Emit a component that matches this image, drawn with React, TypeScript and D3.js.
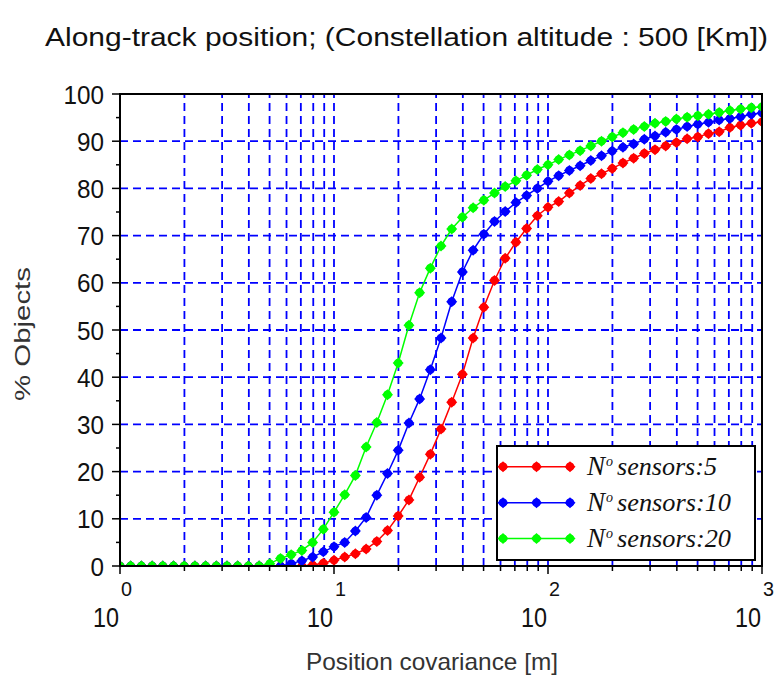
import React from "react";
import * as d3 from "d3";

const covariance = [
  1, 1.122, 1.259, 1.413, 1.585, 1.778, 1.995, 2.239, 2.512, 2.818, 3.162, 3.548, 3.981, 4.467, 5.012, 5.623, 6.31, 7.079, 7.943, 8.913,
  10, 11.22, 12.59, 14.13, 15.85, 17.78, 19.95, 22.39, 25.12, 28.18, 31.62, 35.48, 39.81, 44.67, 50.12, 56.23, 63.1, 70.79, 79.43, 89.13,
  100, 112.2, 125.9, 141.3, 158.5, 177.8, 199.5, 223.9, 251.2, 281.8, 316.2, 354.8, 398.1, 446.7, 501.2, 562.3, 631, 707.9, 794.3, 891.3,
  1000,
];

const sensors5 = [
  0, 0, 0, 0, 0, 0, 0, 0, 0, 0, 0, 0, 0, 0, 0, 0, 0, 0,
  0.2, 0.6, 1.2, 1.9, 2.6, 3.6, 5.2, 7.5, 10.6, 14.0, 18.8, 23.7, 29.0, 34.7, 40.6, 48.3, 54.8, 60.5, 65.2, 68.6, 71.5, 74.2,
  76.0, 77.2, 79.0, 80.6, 82.1, 83.1, 84.2, 85.4, 86.4, 87.4, 88.2, 89.0, 89.7, 90.5, 90.9, 91.6, 92.0, 92.9, 93.4, 93.8, 94.1,
];

const sensors10 = [
  0, 0, 0, 0, 0, 0, 0, 0, 0, 0, 0, 0, 0, 0, 0, 0,
  0.5, 1.1, 1.9, 3.0, 4.1, 5.0, 7.4, 10.3, 15.0, 19.6, 24.5, 30.3, 35.4, 41.6, 48.3, 56.0, 62.3, 66.9, 70.3, 73.0, 75.1, 77.0,
  78.5, 80.0, 81.5, 82.7, 83.8, 84.8, 85.9, 86.9, 87.9, 88.7, 89.4, 90.4, 91.1, 91.9, 92.5, 93.1, 93.6, 94.0, 94.5, 94.8, 95.2,
  95.7, 96.0,
];

const sensors20 = [
  0, 0, 0, 0, 0, 0, 0, 0, 0, 0, 0, 0, 0, 0,
  0.5, 1.6, 2.4, 3.3, 5.0, 7.8, 11.4, 15.1, 19.2, 25.2, 30.4, 36.3, 43.0, 51.0, 57.9, 63.1, 67.8, 71.4, 73.9, 75.9, 77.5, 79.0,
  80.4, 81.6, 82.8, 84.0, 85.0, 86.1, 87.1, 88.0, 89.0, 90.0, 90.9, 91.8, 92.5, 93.1, 93.8, 94.2, 94.7, 95.1, 95.4, 95.7, 96.1,
  96.5, 96.8, 97.1, 97.3,
];

const seriesNames = ["sensors:5", "sensors:10", "sensors:20"];
const seriesColors = ["#ff0000", "#0000ff", "#00ff00"];
const seriesValues = [sensors5, sensors10, sensors20];

const xMajorTicks = [1, 10, 100, 1000];
const xExponents = ["0", "1", "2", "3"];
const yTicks = [0, 10, 20, 30, 40, 50, 60, 70, 80, 90, 100];
const yMinorTicks = [5, 15, 25, 35, 45, 55, 65, 75, 85, 95];

const titleText = "Along-track position; (Constellation altitude : 500 [Km])";
const xTitle = "Position covariance [m]";
const yTitle = "% Objects";

const L = 120, R = 762, T = 94, B = 566;

const markerPath = "M0,-5.5L5.5,0L0,5.5L-5.5,0Z";

export default function App() {
  const x = d3.scaleLog().domain([1, 1000]).range([L, R]);
  const y = d3.scaleLinear().domain([0, 100]).range([B, T]);
  const allLogTicks = x.ticks();
  const gridX = allLogTicks.filter((t) => t > 1 && t < 1000);
  const minorX = allLogTicks.filter((t) => !xMajorTicks.includes(t));
  const line = d3
    .line<number>()
    .x((_, i) => x(covariance[i]))
    .y((d) => y(d));

  const legendY = [466.7, 502.7, 538.5];
  const legendLens = [100, 114, 114];

  return (
    <svg
      width={776}
      height={677}
      style={{ position: "absolute", left: 0, top: 0, background: "#fff" }}
      fontFamily="'Liberation Sans', Arial, sans-serif"
    >
      <rect x={0} y={0} width={776} height={677} fill="#fff" />
      <defs>
        <clipPath id="plotClip">
          <rect x={L} y={T} width={R - L} height={B - T} />
        </clipPath>
      </defs>
      <text x={45} y={46} fontSize={26} textLength={723} lengthAdjust="spacingAndGlyphs" fill="#111">
        {titleText}
      </text>

      {/* grid */}
      <g stroke="#0000ff" strokeWidth={1.8} strokeDasharray="8,5" fill="none">
        {gridX.map((t) => (
          <line key={"gx" + t} x1={x(t)} x2={x(t)} y1={B} y2={T} />
        ))}
        {yTicks
          .filter((t) => t > 0 && t < 100)
          .map((t) => (
            <line key={"gy" + t} x1={L} x2={R} y1={y(t)} y2={y(t)} />
          ))}
      </g>

      {/* curves */}
      <g clipPath="url(#plotClip)">
        {seriesValues.map((vals, si) => (
          <g key={si}>
            <path d={line(vals) || ""} fill="none" stroke={seriesColors[si]} strokeWidth={1.5} />
            {vals.map((v, i) => (
              <g key={i} transform={`translate(${x(covariance[i])},${y(v)})`} fill={seriesColors[si]}>
                <path d={markerPath} />
                <circle r={4.1} />
              </g>
            ))}
          </g>
        ))}
      </g>

      {/* frame */}
      <rect x={L} y={T} width={R - L} height={B - T} fill="none" stroke="#000" strokeWidth={2} />

      {/* ticks */}
      <g stroke="#000" strokeWidth={1.5}>
        {yTicks.map((t) => (
          <line key={"yt" + t} x1={L - 8} x2={L} y1={y(t)} y2={y(t)} />
        ))}
        {yMinorTicks.map((t) => (
          <line key={"ym" + t} x1={L - 4} x2={L} y1={y(t)} y2={y(t)} />
        ))}
        {xMajorTicks.map((t) => (
          <line key={"xt" + t} x1={x(t)} x2={x(t)} y1={B} y2={B + 8} />
        ))}
        {minorX.map((t) => (
          <line key={"xm" + t} x1={x(t)} x2={x(t)} y1={B} y2={B + 5} />
        ))}
      </g>
      {yTicks.map((t) => {
        const s = String(t);
        return (
          <text
            key={"yl" + t}
            x={104}
            y={y(t) + 9.5}
            fontSize={26}
            textAnchor="end"
            textLength={s.length * 13.5}
            lengthAdjust="spacingAndGlyphs"
            fill="#111"
          >
            {s}
          </text>
        );
      })}
      {xMajorTicks.map((t, i) => (
        <g key={"xl" + t}>
          <text
            x={x(t) - 27}
            y={627}
            fontSize={28}
            textLength={26}
            lengthAdjust="spacingAndGlyphs"
            fill="#111"
          >
            10
          </text>
          <text x={x(t) + 1} y={596} fontSize={21} textLength={11} lengthAdjust="spacingAndGlyphs" fill="#111">
            {xExponents[i]}
          </text>
        </g>
      ))}
      <text x={306} y={670} fontSize={24} textLength={252} lengthAdjust="spacingAndGlyphs" fill="#333">
        {xTitle}
      </text>
      <text
        transform="translate(30,334) rotate(-90)"
        fontSize={22}
        textAnchor="middle"
        textLength={134}
        lengthAdjust="spacingAndGlyphs"
        fill="#333"
      >
        {yTitle}
      </text>

      {/* legend */}
      <rect x={497} y={446} width={258} height={114} fill="#fff" stroke="#000" strokeWidth={2} />
      {seriesNames.map((name, si) => (
        <g key={"lg" + si}>
          <line x1={503} x2={570} y1={legendY[si]} y2={legendY[si]} stroke={seriesColors[si]} strokeWidth={1.5} />
          {[503, 536.5, 570].map((mx) => (
            <g key={mx} transform={`translate(${mx},${legendY[si]})`} fill={seriesColors[si]}>
              <path d={markerPath} />
              <circle r={4.1} />
            </g>
          ))}
          <g fontFamily="'Liberation Serif', 'Times New Roman', serif" fontStyle="italic" fill="#111">
            <text x={587} y={legendY[si] + 8.5} fontSize={27}>N</text>
            <text x={606} y={legendY[si] - 1} fontSize={14}>o</text>
            <text
              x={617}
              y={legendY[si] + 8.5}
              fontSize={25}
              textLength={legendLens[si]}
              lengthAdjust="spacingAndGlyphs"
            >
              {name}
            </text>
          </g>
        </g>
      ))}
    </svg>
  );
}
